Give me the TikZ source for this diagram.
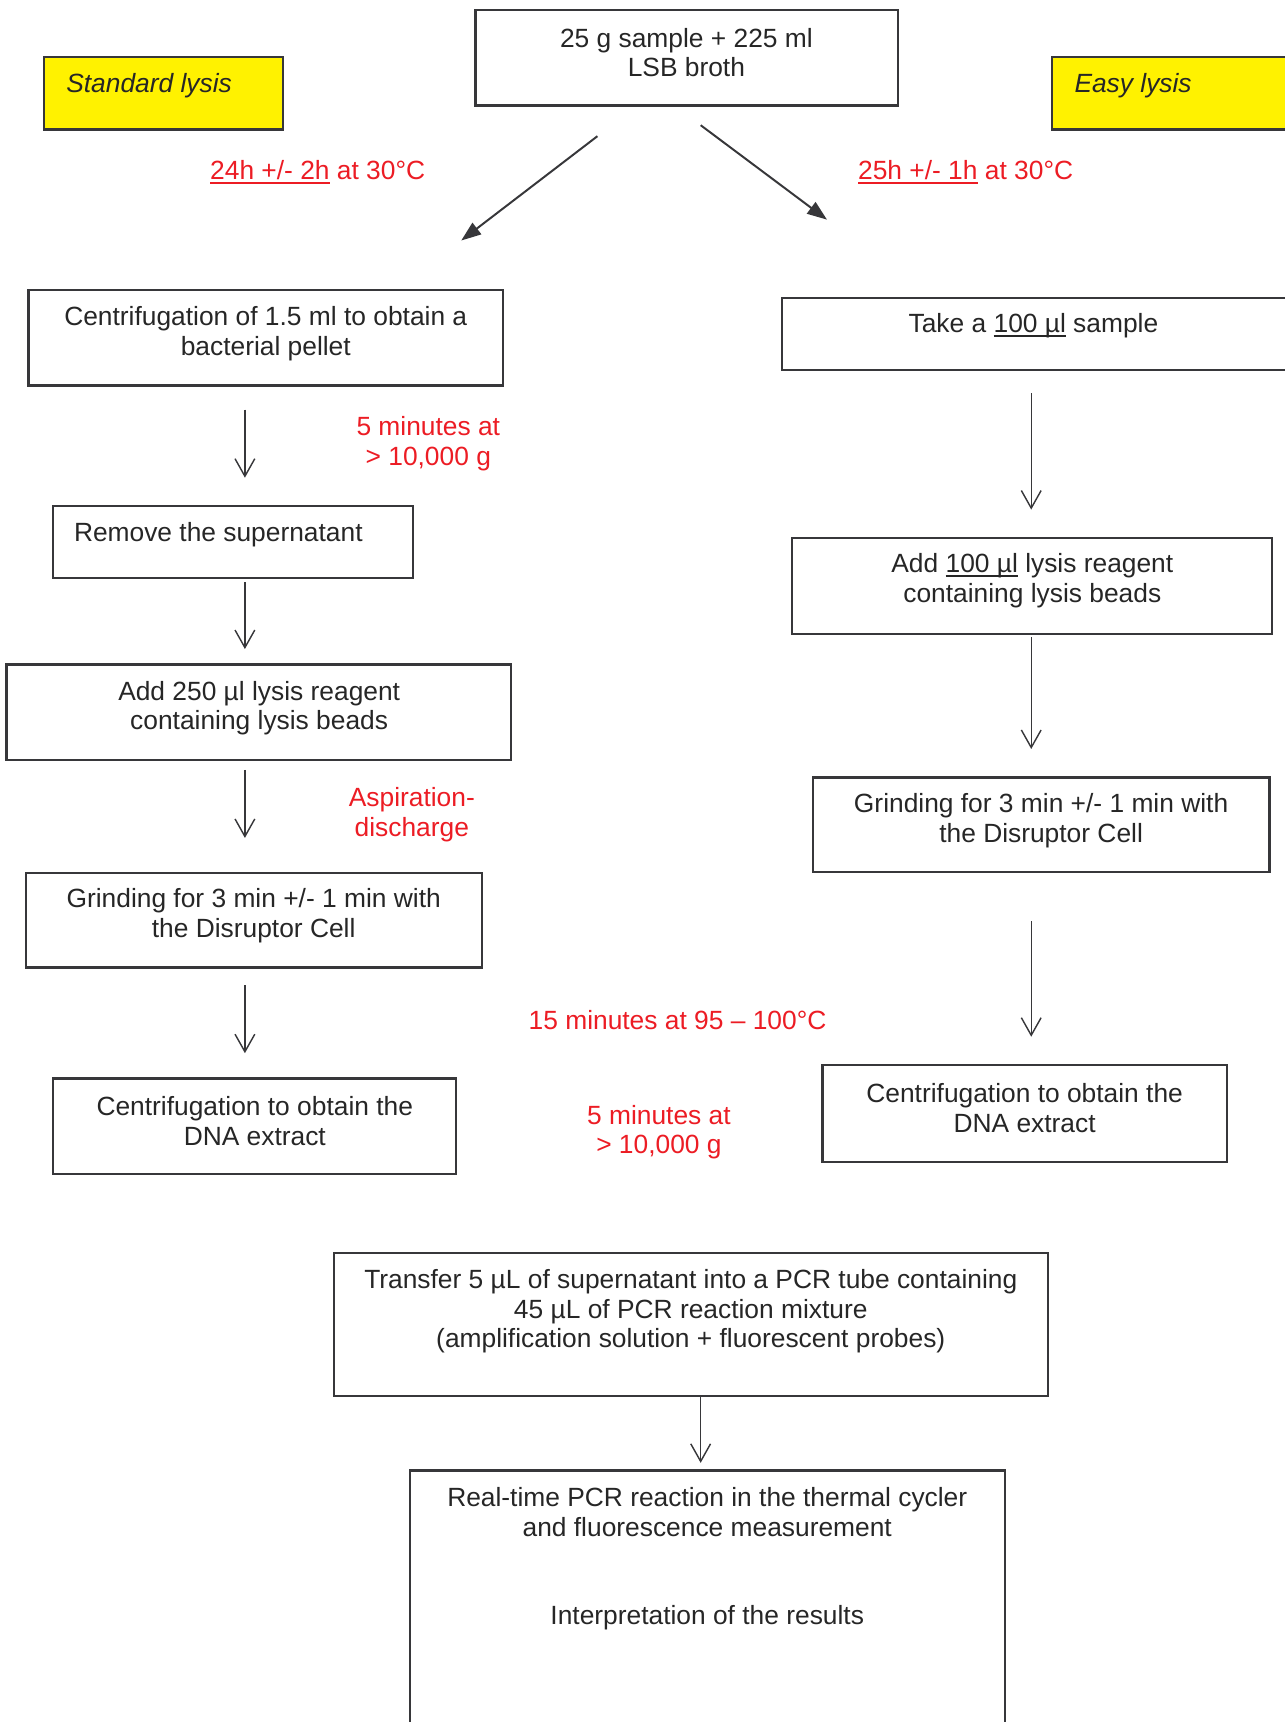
\documentclass[tikz,border=0pt]{standalone}
\usepackage{fontspec}
\setmainfont{Liberation Sans}
\usetikzlibrary{arrows.meta}
\definecolor{lbred}{RGB}{236,28,36}
\definecolor{lbyellow}{RGB}{255,242,0}
\definecolor{lbline}{RGB}{55,55,58}
\newcommand\myul[1]{\setbox0\hbox{#1}\rlap{\rule[-1.8pt]{\wd0}{0.7pt}}#1}
\tikzset{
  box/.style={draw=lbline, line width=1pt, inner sep=0pt},
  ybox/.style={box, fill=lbyellow},
  txt/.style={inner sep=0pt, align=center, text=black!85, font=\fontsize{12pt}{13.5pt}\selectfont},
  rtxt/.style={txt, text=lbred},
  itxt/.style={txt, font=\fontsize{12pt}{13.5pt}\selectfont\itshape},
  varr/.style={draw=lbline, line width=0.65pt, -{Straight Barb[length=8pt,width=9pt]}},
  darr/.style={draw=lbline, line width=0.9pt, -{Triangle[length=9pt,width=6.5pt]}}
}
\begin{document}
\begin{tikzpicture}[x=0.5pt,y=-0.5pt]
\useasboundingbox (0,0) rectangle (1170,1568);
% top box
\node[box, minimum width=192.5pt, minimum height=43.5pt] (top) at (625.5,52.5) {};
\node[txt] (toptxt) at (625,48) {25 g sample + 225 ml\\LSB broth};
% side labels
\node[ybox, minimum width=109pt, minimum height=33pt] (std) at (149,85) {};
\node[itxt, anchor=west] (stdtxt) at (60,78) {Standard lysis};
\node[ybox, minimum width=126pt, minimum height=33pt] (easy) at (1084,85) {};
\node[itxt, anchor=west] (easytxt) at (978,78) {Easy lysis};
% red conditions
\node[rtxt, anchor=west] (c1) at (191,157) {\myul{24h +/- 2h} at 30°C};
\node[rtxt, anchor=west] (c2) at (781,157) {\myul{25h +/- 1h} at 30°C};
% diagonal arrows
\coordinate (d1s) at (544,124); \coordinate (d1e) at (420,219);
\coordinate (d2s) at (638,114); \coordinate (d2e) at (753,200);
\draw[darr] (d1s) -- (d1e);
\draw[darr] (d2s) -- (d2e);
% left column
\node[box, minimum width=216pt, minimum height=43.5pt] (L1) at (242,307.5) {};
\node[txt] (L1t) at (242,304) {Centrifugation of 1.5 ml to obtain a\\bacterial pellet};
\node[box, minimum width=164pt, minimum height=32.5pt] (L2) at (212,493.5) {};
\node[txt, anchor=west] (L2t) at (67,487) {Remove the supernatant};
\node[box, minimum width=229.5pt, minimum height=43.5pt] (L3) at (235.5,648.5) {};
\node[txt] (L3t) at (236,645) {Add 250 µl lysis reagent\\containing lysis beads};
\node[box, minimum width=207.5pt, minimum height=43pt] (L4) at (231.5,838) {};
\node[txt] (L4t) at (231,834) {Grinding for 3 min +/- 1 min with\\the Disruptor Cell};
\node[box, minimum width=183.5pt, minimum height=43.5pt] (L5) at (231.5,1025.5) {};
\node[txt] (L5t) at (232,1021) {Centrifugation to obtain the\\DNA extract};
\coordinate (la1s) at (223,373); \coordinate (la1e) at (223,435);
\coordinate (la2s) at (223,530); \coordinate (la2e) at (223,591);
\coordinate (la3s) at (223,701); \coordinate (la3e) at (223,763);
\coordinate (la4s) at (223,897); \coordinate (la4e) at (223,959);
\draw[varr] (la1s) -- (la1e);
\draw[varr] (la2s) -- (la2e);
\draw[varr] (la3s) -- (la3e);
\draw[varr] (la4s) -- (la4e);
% red notes
\node[rtxt] (n1) at (390,404) {5 minutes at\\> 10,000 g};
\node[rtxt] (n2) at (375,742) {Aspiration-\\discharge};
\node[rtxt, anchor=west] (n3) at (481,929) {15 minutes at 95 – 100°C};
\node[rtxt] (n4) at (600,1031) {5 minutes at\\> 10,000 g};
% right column
\node[box, minimum width=249pt, minimum height=33pt] (R1) at (961,304) {};
\node[txt] (R1t) at (941,297) {Take a \myul{100 µl} sample};
\node[box, minimum width=218.5pt, minimum height=43.5pt] (R2) at (939.5,533.5) {};
\node[txt] (R2t) at (940,529) {Add \myul{100 µl} lysis reagent\\containing lysis beads};
\node[box, minimum width=208pt, minimum height=43pt] (R3) at (948,751) {};
\node[txt] (R3t) at (948,747) {Grinding for 3 min +/- 1 min with\\the Disruptor Cell};
\node[box, minimum width=184pt, minimum height=44pt] (R4) at (933,1014) {};
\node[txt] (R4t) at (933,1009) {Centrifugation to obtain the\\DNA extract};
\coordinate (ra1s) at (939,358); \coordinate (ra1e) at (939,464);
\coordinate (ra2s) at (939,580); \coordinate (ra2e) at (939,682);
\coordinate (ra3s) at (939,839); \coordinate (ra3e) at (939,944);
\draw[varr] (ra1s) -- (ra1e);
\draw[varr] (ra2s) -- (ra2e);
\draw[varr] (ra3s) -- (ra3e);
% bottom
\node[box, minimum width=325pt, minimum height=65pt] (B) at (629,1206) {};
\node[txt] (Bt) at (629,1194) {Transfer 5 µL of supernatant into a PCR tube containing\\45 µL of PCR reaction mixture\\(amplification solution + fluorescent probes)};
\node[box, minimum width=271pt, minimum height=140.5pt] (F) at (644,1479.5) {};
\node[txt] (Ft1) at (644,1377) {Real-time PCR reaction in the thermal cycler\\and fluorescence measurement};
\node[txt] (Ft2) at (644,1473) {Interpretation of the results};
\coordinate (ba1s) at (638,1272); \coordinate (ba1e) at (638,1332);
\draw[varr] (ba1s) -- (ba1e);
\end{tikzpicture}
\end{document}
